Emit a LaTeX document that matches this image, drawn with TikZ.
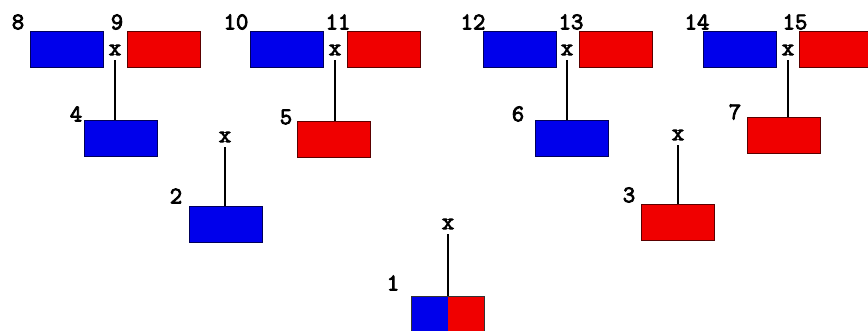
\documentclass[tikz,border=0pt]{standalone}
\usepackage{amsmath}
\usepackage{fontspec}
\usepackage{tikz}

\newfontfamily\numfont[FakeBold=3.5]{Latin Modern Mono}

\definecolor{cellblue}{RGB}{0,0,235}
\definecolor{cellred}{RGB}{240,0,0}
\definecolor{edgeblue}{RGB}{0,0,90}
\definecolor{edgered}{RGB}{90,0,0}

\begin{document}
\begin{tikzpicture}[-,x=1pt,y=-1pt,
	blue box/.style={rectangle,fill=cellblue,draw=edgeblue,line width=1pt,minimum width=73pt,minimum height=36pt,inner sep=0pt},
	red box/.style={rectangle,fill=cellred,draw=edgered,line width=1pt,minimum width=73pt,minimum height=36pt,inner sep=0pt},
	split box/.style={rectangle,draw=black!80,line width=1pt,minimum width=73pt,minimum height=36pt,inner sep=0pt,
		path picture={\fill[cellblue] (path picture bounding box.south west) rectangle (path picture bounding box.north);
		\fill[cellred] (path picture bounding box.south) rectangle (path picture bounding box.north east);}},
	num/.style={inner sep=0pt},
	cross/.style={inner sep=5pt}]
	\tikzstyle{every node}=[font=\fontsize{24}{28}\selectfont\numfont]
	\useasboundingbox (0,0) rectangle (868,331);
	% top row
	\draw (66.5,50) node(b8) [blue box] {}
	      (163.5,50) node(b9) [red box] {}
	      (287,50) node(b10) [blue box] {}
	      (383.5,50) node(b11) [red box] {}
	      (519.5,50) node(b12) [blue box] {}
	      (615.5,50) node(b13) [red box] {}
	      (740,50) node(b14) [blue box] {}
	      (835.5,50) node(b15) [red box] {};
	\draw (18,22) node(n8) [num] {8}
	      (117,22) node(n9) [num] {9}
	      (236,22) node(n10) [num] {10}
	      (338,22) node(n11) [num] {11}
	      (473,22) node(n12) [num] {12}
	      (571,22) node(n13) [num] {13}
	      (697,22) node(n14) [num] {14}
	      (795,22) node(n15) [num] {15};
	\draw (115,50) node(x4) [cross] {x}
	      (335,50) node(x5) [cross] {x}
	      (567,50) node(x6) [cross] {x}
	      (788,50) node(x7) [cross] {x};
	% second row
	\draw (121,138.5) node(b4) [blue box] {}
	      (333.5,140) node(b5) [red box] {}
	      (571.5,138.5) node(b6) [blue box] {}
	      (783.5,136) node(b7) [red box] {};
	\draw (76,114) node(n4) [num] {4}
	      (286,117) node(n5) [num] {5}
	      (518,114) node(n6) [num] {6}
	      (735,112) node(n7) [num] {7};
	\draw (225,137) node(x2) [cross] {x}
	      (678,135) node(x3) [cross] {x};
	% third row
	\draw (225.5,224.5) node(b2) [blue box] {}
	      (677.5,222.5) node(b3) [red box] {};
	\draw (176,196) node(n2) [num] {2}
	      (629,195) node(n3) [num] {3};
	\draw (448,224) node(x1) [cross] {x};
	% root
	\draw (447.5,315) node(b1) [split box] {};
	\draw (393,283) node(n1) [num] {1};
	% links
	\draw[line width=1.2pt] (x4.south) -- (x4.south |- b4.north);
	\draw[line width=1.2pt] (x5.south) -- (x5.south |- b5.north);
	\draw[line width=1.2pt] (x6.south) -- (x6.south |- b6.north);
	\draw[line width=1.2pt] (x7.south) -- (x7.south |- b7.north);
	\draw[line width=1.2pt] (x2.south) -- (x2.south |- b2.north);
	\draw[line width=1.2pt] (x3.south) -- (x3.south |- b3.north);
	\draw[line width=1.2pt] (x1.south) -- (x1.south |- b1.north);
\end{tikzpicture}
\end{document}
